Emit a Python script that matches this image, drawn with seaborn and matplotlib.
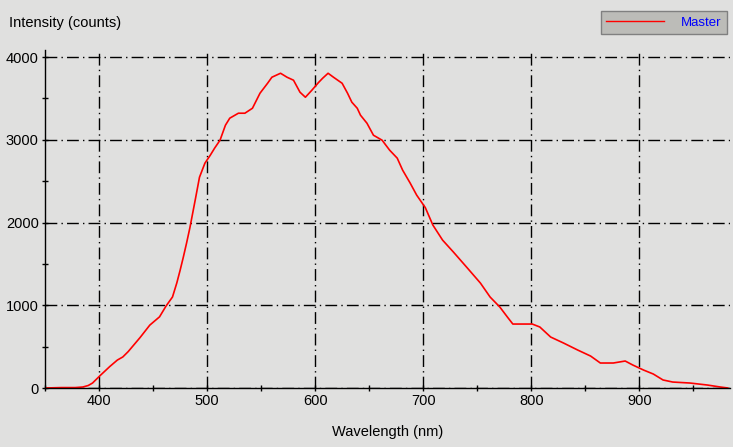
import matplotlib
matplotlib.use("Agg")
import matplotlib.pyplot as plt
import seaborn as sb
import pandas as pd
from matplotlib.ticker import MultipleLocator

# spectrum
wavelength = [350, 365, 378, 385, 390, 394, 401, 410, 417, 422, 427, 438, 447, 456, 462,
              468, 472, 475, 478, 481, 484, 489, 493, 498, 503, 507, 512, 517, 521, 529,
              535, 542, 549, 556, 560, 568, 574, 580, 586, 591, 597, 603, 607, 612, 617,
              625, 630, 634, 639, 642, 648, 654, 662, 669, 676, 681, 688, 694, 702, 709,
              718, 728, 741, 753, 762, 771, 778, 783, 793, 801, 808, 818, 830, 843, 855,
              864, 876, 887, 894, 904, 913, 922, 931, 947, 963, 975, 982]
intensity = [0, 5, 5, 12, 30, 60, 150, 260, 338, 375, 440, 610, 760, 860, 990,
             1100, 1270, 1420, 1580, 1750, 1930, 2270, 2548, 2717, 2814, 2899, 2995, 3176, 3261, 3321,
             3321, 3381, 3563, 3683, 3756, 3804, 3756, 3720, 3575, 3514, 3599, 3690, 3744, 3804, 3756,
             3683, 3563, 3454, 3381, 3297, 3200, 3055, 2995, 2874, 2778, 2633, 2476, 2331, 2180, 1969,
             1787, 1643, 1449, 1268, 1099, 978, 857, 773, 773, 773, 737, 616, 543, 459, 386,
             302, 302, 326, 278, 217, 169, 97, 72, 60, 36, 12, 0]
series_name = "Master"

df = pd.DataFrame({"Wavelength": wavelength, "Intensity": intensity})

plt.rcParams["font.family"] = ["Liberation Sans", "DejaVu Sans"]
bg = "#e0e0df"

fig = plt.figure(figsize=(7.33, 4.47), dpi=100, facecolor=bg)
ax = fig.add_axes([45 / 733, 1 - 388 / 447, 685 / 733, 338 / 447])
ax.set_facecolor(bg)

sb.lineplot(data=df, x="Wavelength", y="Intensity", color="red", linewidth=1.2,
            estimator=None, label=series_name, ax=ax, legend=False)

ax.set_xlim(350, 984)
ax.set_ylim(0, 4085)
ax.xaxis.set_major_locator(MultipleLocator(100))
ax.xaxis.set_minor_locator(MultipleLocator(50))
ax.yaxis.set_major_locator(MultipleLocator(1000))
ax.yaxis.set_minor_locator(MultipleLocator(500))
ax.tick_params(which="both", direction="inout", length=5, width=1, color="black",
               labelsize=10.5, pad=2)

for s in ["top", "right"]:
    ax.spines[s].set_visible(False)
for s in ["left", "bottom"]:
    ax.spines[s].set_color("black")
    ax.spines[s].set_linewidth(1)

ax.grid(True, which="major", color="black", linewidth=1, linestyle=(0, (8.5, 3, 1, 3)))

ax.set_xlabel("Wavelength (nm)", fontsize=10.5, labelpad=12)
ax.set_ylabel("")
fig.text(9 / 733, 1 - 23 / 447, "Intensity (counts)", fontsize=10.5, va="center", ha="left")

leg = fig.legend(handles=ax.get_lines()[:1], labels=[series_name], loc="upper right",
                 bbox_to_anchor=(727 / 733, 1 - 11 / 447), fontsize=9.5, labelcolor="blue",
                 fancybox=False, facecolor="#bcbcb8", edgecolor="#808080", framealpha=1,
                 handlelength=4.4, handletextpad=1.3, borderpad=0.4, borderaxespad=0)
leg.get_lines()[0].set_linewidth(1)

fig.savefig("out.png", dpi=100, facecolor=bg)
